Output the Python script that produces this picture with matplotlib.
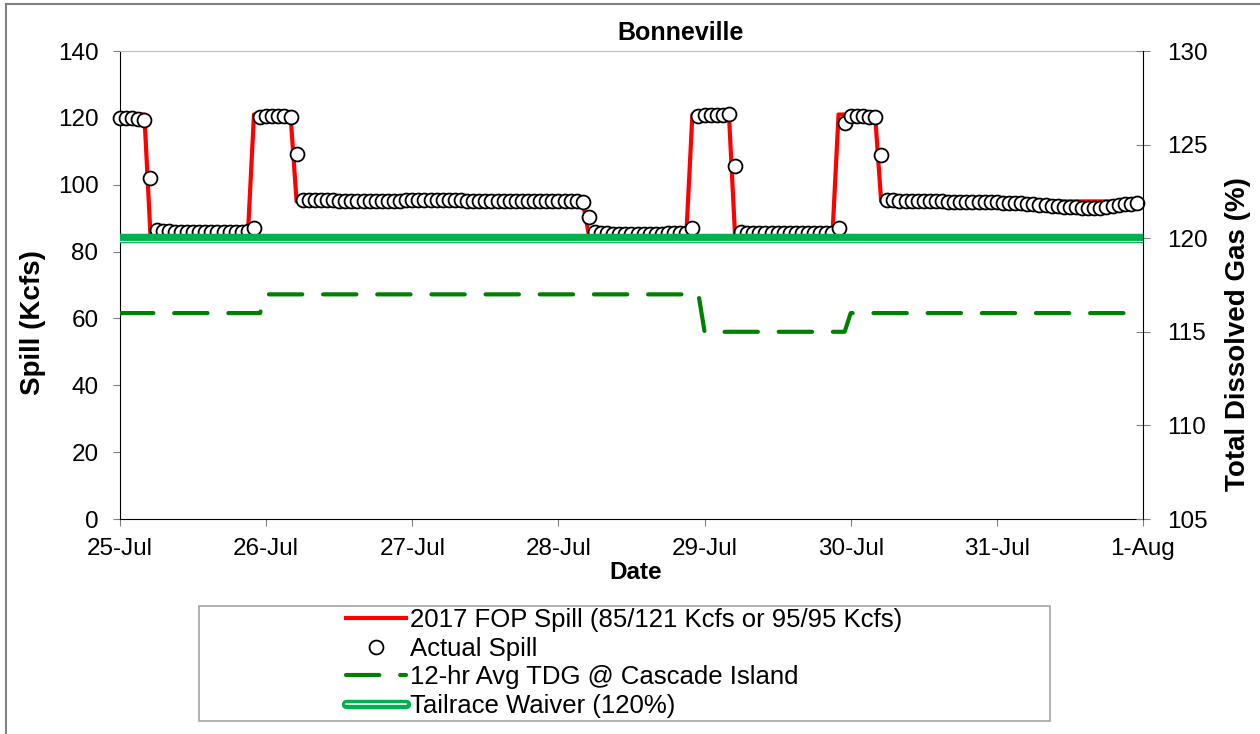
import matplotlib
matplotlib.use('Agg')
import matplotlib.pyplot as plt
import matplotlib.patheffects as pe
from matplotlib.lines import Line2D
from matplotlib.patches import Rectangle
from matplotlib.legend_handler import HandlerTuple
import pandas as pd

plt.rcParams['font.family'] = ['Liberation Sans', 'DejaVu Sans']

# hourly data, 25-Jul 00:00 .. 31-Jul 23:00
times = pd.date_range('2017-07-25 00:00', periods=168, freq='h')
day_ticks = pd.date_range('2017-07-25', '2017-08-01', freq='D')
day_labels = ['25-Jul', '26-Jul', '27-Jul', '28-Jul', '29-Jul', '30-Jul', '31-Jul', '1-Aug']

# 2017 FOP spill (Kcfs)
fop_spill = ([121] * 5 + [85] * 17 + [121] * 7 + [95] * 48 + [85] * 17
             + [121] * 7 + [85] * 17 + [121] * 7 + [95] * 43)

# actual spill (Kcfs)
actual_spill = (
    [120.0, 120.0, 120.0, 119.8, 119.5]
    + [102.0]
    + [86.5, 86.3, 86.2, 86.0, 86.0, 85.9, 85.9, 85.9, 85.9, 85.9, 85.9, 86.0, 86.0, 86.0, 86.0, 86.2]
    + [87.2]
    + [120.2, 120.5, 120.5, 120.5, 120.5, 120.2]
    + [109.2]
    + [95.4, 95.4, 95.4, 95.3, 95.3, 95.3, 95.2, 95.2, 95.2, 95.1,
       95.1, 95.1, 95.0, 95.0, 95.0, 95.1, 95.2, 95.3, 95.3, 95.3,
       95.4, 95.4, 95.4, 95.4, 95.3, 95.3, 95.3, 95.2, 95.2, 95.2,
       95.1, 95.1, 95.1, 95.0, 95.0, 95.0, 95.1, 95.1, 95.2, 95.2,
       95.2, 95.2, 95.1, 95.1, 95.0, 95.0, 94.9]
    + [90.2]
    + [85.8, 85.6, 85.5, 85.4, 85.4, 85.3, 85.3, 85.3, 85.3, 85.3, 85.4, 85.4, 85.5, 85.5, 85.6, 85.7]
    + [87.2]
    + [120.6, 120.8, 120.9, 121.0, 121.0, 121.1]
    + [105.6]
    + [85.9, 85.7, 85.6, 85.6, 85.5, 85.5, 85.5, 85.5, 85.5, 85.5, 85.5, 85.6, 85.6, 85.6, 85.7, 85.7]
    + [87.0]
    + [118.4]
    + [120.6, 120.6, 120.5, 120.4, 120.3]
    + [108.9]
    + [95.3, 95.3, 95.2, 95.2, 95.1, 95.1, 95.1, 95.0, 95.0, 95.0,
       94.9, 94.9, 94.9, 94.8, 94.8, 94.8, 94.7, 94.7, 94.7, 94.6,
       94.6, 94.5, 94.4, 94.3, 94.2, 94.0, 93.9, 93.7, 93.6, 93.4,
       93.3, 93.2, 93.1, 93.0, 93.0, 93.1, 93.3, 93.6, 93.9, 94.1,
       94.3, 94.5]
)

# 12-hr avg TDG at Cascade Island (%)
tdg_12hr = [116] * 24 + [117] * 72 + [115] * 24 + [116] * 48

waiver = 120

labels = ['2017 FOP Spill (85/121 Kcfs or 95/95 Kcfs)', 'Actual Spill',
          '12-hr Avg TDG @ Cascade Island', 'Tailrace Waiver (120%)']

red = '#FF0000'
dgreen = '#008000'
wgreen = '#00B050'
gray = '#808080'

fig = plt.figure(figsize=(12.6, 7.34), dpi=100)
ax1 = fig.add_axes([120 / 1260, 1 - 519 / 734, 1023 / 1260, 468 / 734])

ax1.plot(times, fop_spill, color=red, lw=3, zorder=2)
ax1.plot(times, actual_spill, 'o', mfc='white', mec='black', ms=10, mew=1.3,
         clip_on=False, zorder=3)

ax1.set_ylim(0, 140)
ax1.set_yticks(range(0, 141, 20))
ax1.set_xlim(day_ticks[0], day_ticks[-1])
ax1.set_xticks(day_ticks)
ax1.set_xticklabels(day_labels)
ax1.tick_params(axis='y', direction='out', length=5, color=gray, labelsize=17.5, pad=10.5)
ax1.tick_params(axis='x', direction='out', length=5, color=gray, labelsize=17.5, pad=9)
ax1.spines['top'].set_color('#BFBFBF')
ax1.spines['right'].set_visible(False)

ax1.set_ylabel('Spill (Kcfs)', fontsize=20, fontweight='bold')
ax1.yaxis.set_label_coords(-0.072, 0.42)
ax1.set_xlabel('Date', fontsize=17.5, fontweight='bold')
ax1.xaxis.set_label_coords(0.504, -0.09)
ax1.text(0.548, 1.038, 'Bonneville', transform=ax1.transAxes, ha='center', va='center',
         fontsize=18, fontweight='bold')

ax2 = ax1.twinx()
ax2.plot(times, tdg_12hr, color=dgreen, lw=3, dashes=(8, 5), dash_capstyle='round')
ax2.axhline(waiver, color=wgreen, lw=6.8)
ax2.axhline(waiver, color='white', lw=0.8,
            path_effects=[pe.Stroke(offset=(0, -1.8), linewidth=0.8, foreground='white')])
ax2.set_ylim(105, 130)
ax2.set_yticks(range(105, 131, 5))
ax2.tick_params(axis='y', direction='inout', length=10, color=gray, labelsize=17.5, pad=12.5)
for s in ['top', 'left', 'bottom']:
    ax2.spines[s].set_visible(False)
ax2.set_ylabel('Total Dissolved Gas (%)', fontsize=20, fontweight='bold')
ax2.yaxis.set_label_coords(1.080, 0.395)

# legend below the chart
h_red = Line2D([], [], color=red, lw=3)
h_circ = Line2D([], [], ls='none', marker='o', mfc='white', mec='black', ms=10, mew=1.3)
h_tdg = Line2D([], [], color=dgreen, lw=3, dashes=(8, 5), dash_capstyle='round')
h_w1 = Line2D([], [], color=wgreen, lw=6.8, solid_capstyle='round')
h_w2 = Line2D([], [], color='white', lw=1.2)
fig.legend(handles=[h_red, h_circ, h_tdg, (h_w1, h_w2)], labels=labels,
           loc='center', bbox_to_anchor=(624 / 1260, 1 - 663 / 734), frameon=False,
           fontsize=18.5, handlelength=2.33, handletextpad=0.16, labelspacing=0.18,
           handler_map={tuple: HandlerTuple(ndivide=1)})
fig.add_artist(Rectangle((199 / 1260, 1 - 721 / 734), 851 / 1260, 115 / 734,
                         transform=fig.transFigure, fill=False, edgecolor='#A6A6A6', lw=1.2))

# outer chart border (left and top visible)
fig.add_artist(Line2D([6 / 1260, 6 / 1260], [0, 1 - 4 / 734], transform=fig.transFigure,
                      color=gray, lw=1.5))
fig.add_artist(Line2D([6 / 1260, 1], [1 - 4 / 734, 1 - 4 / 734], transform=fig.transFigure,
                      color=gray, lw=1.5))

fig.savefig('out.png', dpi=100)
